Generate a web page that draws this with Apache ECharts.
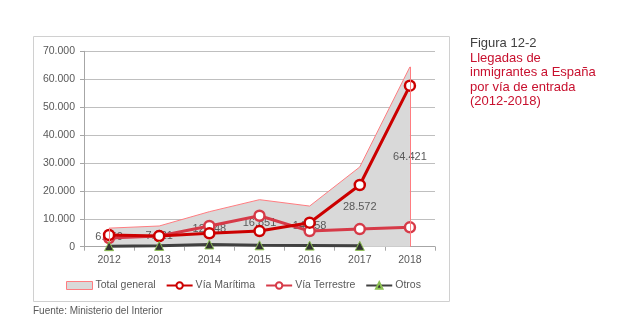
<!DOCTYPE html>
<html>
<head>
<meta charset="utf-8">
<script src="https://cdn.jsdelivr.net/npm/echarts@6/dist/echarts.min.js"></script>
<style>
html,body{margin:0;padding:0;background:#fff;}
#chart{width:620px;height:332px;}
</style>
</head>
<body>
<div id="chart"></div>
<script>
const years = ['2012','2013','2014','2015','2016','2017','2018'];
const totalGeneral = [6650, 7421, 12548, 16851, 14558, 28572, 64421];
const viaMaritima = [4200, 3800, 4800, 5600, 8600, 22100, 57700];
const viaTerrestre = [3100, 3800, 7400, 11100, 5600, 6300, 6950];
const otros = [200, 300, 800, 500, 400, 300, null];
const yTicks = {min: 0, max: 70000, interval: 10000};

const fmt = v => {
  const s = String(Math.round(v));
  return s.replace(/\B(?=(\d{3})+(?!\d))/g, '.');
};

const chart = echarts.init(document.getElementById('chart'), null, {renderer: 'canvas'});
const FONT = '"Liberation Sans", Arial, sans-serif';
const lastIdx = years.length - 1;

chart.setOption({
  animation: false,
  textStyle: {fontFamily: FONT},
  grid: {left: 84, right: 185, top: 51.3, bottom: 85.3, containLabel: false},
  legend: {
    left: 61, top: 275,
    itemWidth: 26, itemHeight: 8, itemGap: 10,
    textStyle: {fontSize: 10.5, color: '#595959', fontFamily: FONT, padding: [0, 0, 0, -2]},
    data: [
      {name: 'Total general', icon: 'rect', itemStyle: {color: '#d9d9d9', borderColor: '#ff7c80', borderWidth: 1}},
      {name: 'Vía Marítima'},
      {name: 'Vía Terrestre'},
      {name: 'Otros'}
    ]
  },
  xAxis: {
    type: 'category', data: years, boundaryGap: true,
    axisLine: {lineStyle: {color: '#a6a6a6', width: 1}},
    axisTick: {show: true, length: 4, lineStyle: {color: '#a6a6a6'}},
    axisLabel: {fontSize: 10.5, color: '#595959', margin: 8, fontFamily: FONT}
  },
  yAxis: {
    type: 'value', min: yTicks.min, max: yTicks.max, interval: yTicks.interval,
    axisLine: {show: true, lineStyle: {color: '#a6a6a6', width: 1}},
    axisTick: {show: true, length: 4, lineStyle: {color: '#a6a6a6'}},
    axisLabel: {fontSize: 10.5, color: '#595959', margin: 9, fontFamily: FONT, formatter: v => fmt(v)},
    splitLine: {lineStyle: {color: '#bfbfbf', width: 1}}
  },
  graphic: [
    {type: 'rect', shape: {x: 33.5, y: 36.5, width: 416, height: 265}, style: {fill: 'none', stroke: '#d0d0d0', lineWidth: 1}, silent: true, z: -10},
    {type: 'text', left: 470, top: 36, style: {text: 'Figura 12-2', font: '13px ' + FONT, fill: '#404040', lineHeight: 14.5}},
    {type: 'text', left: 470, top: 51, style: {text: 'Llegadas de\ninmigrantes a España\npor vía de entrada\n(2012-2018)', font: '13px ' + FONT, fill: '#c8102e', lineHeight: 14.4}},
    {type: 'text', left: 33, top: 306, style: {text: 'Fuente: Ministerio del Interior', font: '10px ' + FONT, fill: '#595959'}}
  ],
  series: [
    {
      name: 'Total general', type: 'line', data: totalGeneral, z: 1,
      symbol: 'none', color: '#ff7c80',
      lineStyle: {color: '#ff7c80', width: 1},
      areaStyle: {color: '#d9d9d9', opacity: 1},
      markLine: {
        silent: true, symbol: 'none', label: {show: false},
        lineStyle: {color: '#ff7c80', width: 1, type: 'solid'},
        data: [
          [{coord: [years[lastIdx], 0]}, {coord: [years[lastIdx], totalGeneral[lastIdx]]}],
          [{coord: [years[0], 0]}, {coord: [years[0], totalGeneral[0]]}]
        ]
      }
    },
    {
      name: 'Total labels', type: 'bar', data: totalGeneral, z: 2,
      barWidth: '60%', itemStyle: {color: 'rgba(0,0,0,0)'},
      label: {show: true, position: 'inside', color: '#595959', fontSize: 11, fontFamily: FONT, formatter: p => fmt(p.value)},
      legendHoverLink: false, silent: true
    },
    {
      name: 'Vía Marítima', type: 'line', data: viaMaritima, z: 4,
      color: '#cc0000',
      lineStyle: {color: '#cc0000', width: 3},
      symbol: 'circle', symbolSize: 10, showAllSymbol: true,
      itemStyle: {color: '#ffffff', borderColor: '#cc0000', borderWidth: 2.5}
    },
    {
      name: 'Vía Terrestre', type: 'line', data: viaTerrestre, z: 3,
      color: '#d63a48',
      lineStyle: {color: '#d63a48', width: 3},
      symbol: 'circle', symbolSize: 10, showAllSymbol: true,
      itemStyle: {color: '#ffffff', borderColor: '#d63a48', borderWidth: 2.5}
    },
    {
      name: 'Otros', type: 'line', data: otros, z: 5,
      color: '#404040',
      lineStyle: {color: '#404040', width: 3},
      symbol: 'triangle', symbolSize: 9, showAllSymbol: true,
      itemStyle: {color: '#333333', borderColor: '#8cc152', borderWidth: 1}
    }
  ]
});
</script>
</body>
</html>
